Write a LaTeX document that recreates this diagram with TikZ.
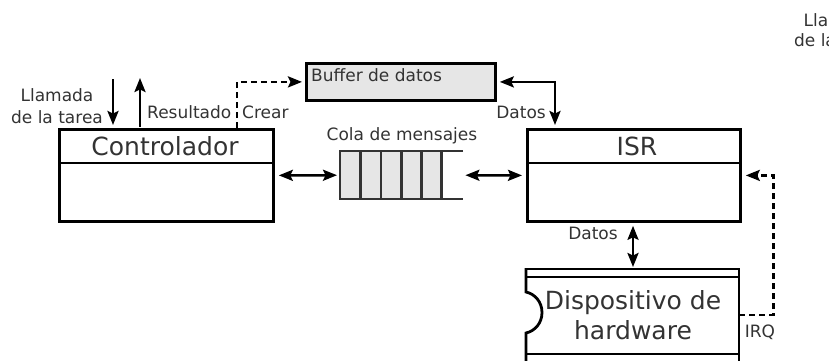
\documentclass[tikz,border=0pt]{standalone}
\usepackage{fontspec}
\setmainfont{DejaVu Sans}
\usetikzlibrary{arrows.meta,calc}
\definecolor{txt}{HTML}{333333}
\definecolor{cell}{HTML}{E6E6E6}
\definecolor{edge}{HTML}{333333}
\begin{document}
\begin{tikzpicture}[x=1pt,y=-1pt,
  lw/.style={line width=2.8pt},
  box/.style={draw, lw, minimum height=92pt, anchor=north west, inner sep=0pt},
  big/.style={font=\fontsize{25}{30}\selectfont, text=txt, inner sep=0pt},
  small/.style={font=\fontsize{17}{22}\selectfont, text=txt, inner sep=0pt},
  arr/.style={line width=2.5pt, -{Stealth[length=14pt,width=11pt,inset=2.5pt]}},
  darr/.style={line width=2.5pt, {Stealth[length=14pt,width=11pt,inset=2.5pt]}-{Stealth[length=14pt,width=11pt,inset=2.5pt]}},
  dsh/.style={arr, dash pattern=on 6pt off 4pt},
]
\useasboundingbox (0,0) rectangle (829,360);
\clip (0,0) rectangle (829,360);

% Controlador
\node[box, minimum width=214pt] (ctrl) at (58,128) {};
\draw[lw] ($(ctrl.north west)+(0,35)$) -- ($(ctrl.north east)+(0,35)$);
\node[big] (ctrlt) at (165,146) {Controlador};

% ISR
\node[box, minimum width=213pt] (isr) at (526,128) {};
\draw[lw] ($(isr.north west)+(0,35)$) -- ($(isr.north east)+(0,35)$);
\node[big] (isrt) at (637,146) {ISR};

% Buffer de datos
\node[draw, lw, fill=cell, minimum width=189pt, minimum height=37pt, anchor=north west, inner sep=0pt] (buf) at (305,62) {};
\node[small, anchor=west] (buft) at (311,75) {Buffer de datos};

% Cola de mensajes
\node[minimum width=123pt, minimum height=48pt, inner sep=0pt, anchor=north west] (queue) at (340,151) {};
\fill[cell] (340,151) rectangle (441.7,199);
\draw[edge, lw] (463,151) -- (340,151) -- (340,199) -- (463,199);
\foreach \cx in {360.7,381,401.7,421.7,441.7}
  \draw[edge, lw] (\cx,151) -- (\cx,199);
\node[small] (queuet) at (402,136) {Cola de mensajes};

% Dispositivo de hardware
\node[minimum width=213pt, minimum height=91pt, inner sep=0pt, anchor=north west] (hw) at (526,269) {};
\draw[lw] (526,269) -- (739,269);
\draw[lw] (526,277) -- (739,277);
\draw[lw] (526,354) -- (739,354);
\draw[lw] (739,268) -- (739,362);
\draw[lw] (526,268) -- (526,292)
  .. controls (535,294) and (542,302) .. (542,312.5)
  .. controls (542,323) and (535,331) .. (526,333) -- (526,362);
\node[big, align=center, font=\fontsize{25}{30}\selectfont] (hwt) at (633,315) {Dispositivo de\\hardware};

% Llamada / Resultado
\coordinate (call) at (113,79);
\coordinate (res) at (140,78);
\draw[arr, shorten >=3pt] (call) -- (call |- ctrl.north);
\draw[arr, shorten <=1pt] (res |- ctrl.north) -- (res);
\node[small, align=center] (callt) at (57,106) {Llamada\\de la tarea};
\node[small, anchor=west] (rest) at (147,112) {Resultado};

% Crear
\coordinate (crear) at ($(ctrl.north west)+(179,0)$);
\draw[dsh, shorten >=3pt] (crear) |- (buf.west);
\node[small, anchor=west] (creart) at (242,112) {Crear};

% Buffer <-> ISR
\draw[darr, shorten <=3pt, shorten >=3pt] (buf.east) -| ($(isr.north west)+(29,0)$);
\node[small, anchor=east] (datos1) at (546,112) {Datos};

% Controlador <-> Cola <-> ISR
\draw[darr, shorten <=4pt, shorten >=3pt] (ctrl.east) -- (queue.west);
\draw[darr, shorten <=2pt, shorten >=4pt] (queue.east) -- (isr.west);

% ISR <-> hardware
\draw[darr, shorten <=3pt, shorten >=2pt] ($(isr.south west)+(107,0)$) -- ($(hw.north west)+(107,0)$);
\node[small] (datos2) at (593,233) {Datos};

% IRQ
\coordinate (irq) at ($(hw.north east)+(0,46)$);
\draw[dsh, shorten >=4pt] (irq) -- ++(34,0) |- (isr.east);
\node[small] (irqt) at (760,332) {IRQ};

% clipped label at the top right
\node[small, align=center, font=\fontsize{17}{20}\selectfont] (callt2) at (840,30) {Llamada\\de la tarea};
\end{tikzpicture}
\end{document}
